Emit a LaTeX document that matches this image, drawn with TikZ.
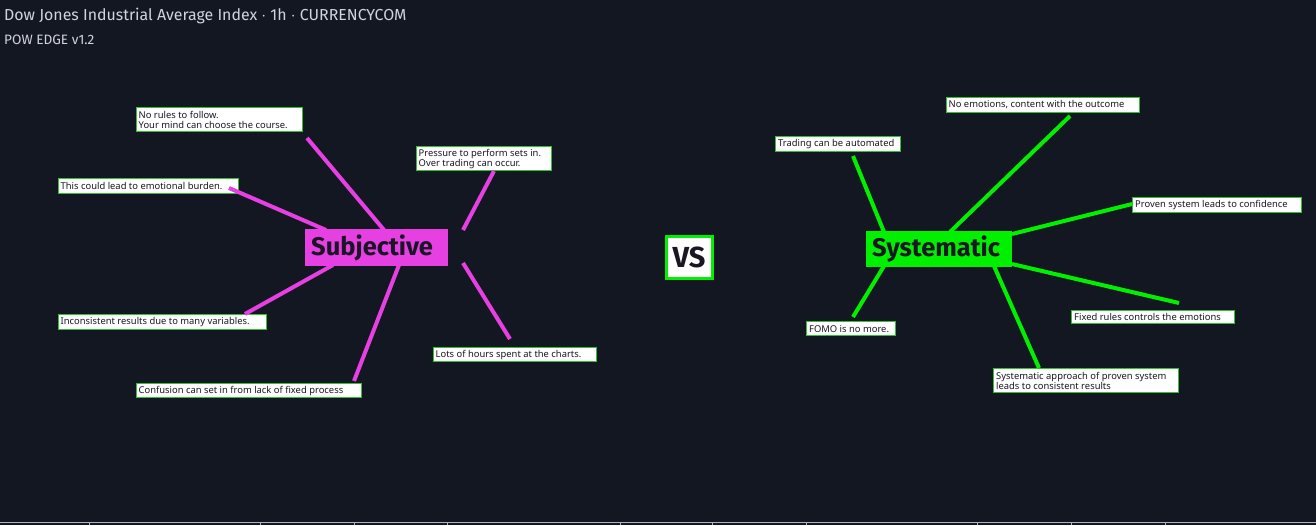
\documentclass[tikz,border=0pt]{standalone}
\usepackage{fontspec}
\setmainfont{Noto Sans}
\newfontfamily\titlefont{Fira Sans}
\newfontfamily\lblfam{Noto Sans}
\newfontfamily\bigfam{Fira Sans}
\definecolor{bg}{HTML}{131722}
\definecolor{ttl}{HTML}{D1D4DC}
\definecolor{mag}{HTML}{E640E3}
\definecolor{grn}{HTML}{00F000}
\definecolor{lblgrn}{HTML}{30C030}
\definecolor{dark}{HTML}{1B1626}
\definecolor{axis}{HTML}{B2B5BE}
\newcommand\lw[2]{\makebox[#1pt][l]{#2}}
\tikzset{
  lbl/.style={draw=lblgrn, line width=1.4, fill=white, anchor=north west,
    inner xsep=2.5, inner ysep=0, align=left, text=dark,
    font=\lblfam\fontsize{9.4}{10.2}\selectfont},
  bigbox/.style={anchor=north west, inner xsep=6, inner ysep=0, align=left,
    text=dark, font=\bigfam\fontsize{25.5}{28}\selectfont\bfseries},
  mline/.style={draw=mag, line width=4},
  gline/.style={draw=grn, line width=4},
}
\begin{document}
\begin{tikzpicture}[x=1pt,y=-1pt]
\fill[bg] (0,0) rectangle (1316,525);
\useasboundingbox (0,0) rectangle (1316,525);

% header
\node[anchor=base west, inner sep=0, text=ttl, font=\titlefont\fontsize{15.9}{17}\selectfont] (title) at (4,20.5) {Dow Jones Industrial Average Index $\cdot$ 1h $\cdot$ CURRENCYCOM};
\node[anchor=base west, inner sep=0, text=ttl, font=\titlefont\fontsize{13.6}{15}\selectfont] (ver) at (4,44) {POW EDGE v1.2};

% central nodes
\node[bigbox, fill=mag, text width=131, minimum height=37] (subj) at (305,229) {Subjective};
\node[bigbox, fill=grn, text width=134, minimum height=36] (syst) at (866,231) {Systematic};
\node[draw=grn, line width=3, fill=white, anchor=north west, minimum width=46, minimum height=42, inner sep=0, text=dark, font=\bigfam\fontsize{29}{30}\selectfont\bfseries] (vs) at (664.5,234.5) {VS};

% left labels
\node[lbl, minimum height=24] (l1) at (135.5,107) {\lw{161}{No rules to follow.}\\\lw{161}{Your mind can choose the course.}};
\node[lbl, minimum height=24] (l2) at (415.5,146) {\lw{130}{Pressure to perform sets in.}\\\lw{130}{Over trading can occur.}};
\node[lbl, minimum height=15] (l3) at (57.5,177.5) {\lw{175}{This could lead to emotional burden.}};
\node[lbl, minimum height=15] (l4) at (57.5,314) {\lw{203}{Inconsistent results due to many variables.}};
\node[lbl, minimum height=14] (l5) at (432.5,347) {\lw{158}{Lots of hours spent at the charts.}};
\node[lbl, minimum height=14] (l6) at (135.5,383) {\lw{220}{Confusion can set in from lack of fixed process}};

% right labels
\node[lbl, minimum height=14.5] (r1) at (945.5,97) {\lw{188}{No emotions, content with the outcome}};
\node[lbl, minimum height=14.5] (r2) at (775,136) {\lw{120}{Trading can be automated}};
\node[lbl, minimum height=14.5] (r3) at (1132,197) {\lw{164}{Proven system leads to confidence}};
\node[lbl, minimum height=14] (r4) at (806,321) {\lw{84}{FOMO is no more.}};
\node[lbl, minimum height=13.5] (r5) at (1071,309.5) {\lw{158}{Fixed rules controls the emotions}};
\node[lbl, minimum height=24] (r6) at (993,368) {\lw{180}{Systematic approach of proven system}\\\lw{180}{leads to consistent results}};

% connector endpoints
\coordinate (a1) at (307,138);  \coordinate (b1) at (384,230);
\coordinate (a2) at (494,171);  \coordinate (b2) at (463,230);
\coordinate (a3) at (229,188);  \coordinate (b3) at (326,230);
\coordinate (a4) at (245,314);  \coordinate (b4) at (333,265);
\coordinate (a5) at (510,339);  \coordinate (b5) at (463,263);
\coordinate (a6) at (354,381);  \coordinate (b6) at (399,265);

\coordinate (c1) at (1070,116); \coordinate (d1) at (950,232);
\coordinate (c2) at (853,156);  \coordinate (d2) at (884,232);
\coordinate (c3) at (1132,204); \coordinate (d3) at (1012,234);
\coordinate (c4) at (853,317);  \coordinate (d4) at (884,266);
\coordinate (c5) at (1179,303); \coordinate (d5) at (1012,264);
\coordinate (c6) at (1039,368); \coordinate (d6) at (994,266);

\foreach \i in {1,...,6} {\draw[mline] (a\i) -- (b\i);}
\foreach \i in {1,...,6} {\draw[gline] (c\i) -- (d\i);}

% bottom axis
\draw[axis, line width=1] (0,522.5) -- (1316,522.5);
\foreach \t in {89,260,354,447,620,712,806,977,1071,1165}
  {\draw[axis, line width=0.8] (\t,522.5) -- (\t,525);}
\end{tikzpicture}
\end{document}
